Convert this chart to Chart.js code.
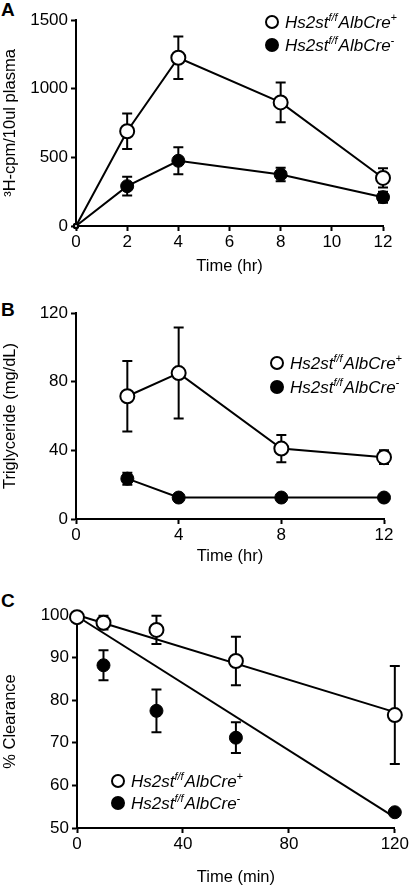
<!DOCTYPE html>
<html>
  <head>
    <meta charset="UTF-8">
    <title>Hs2st clearance</title>
    <script src="https://cdn.jsdelivr.net/npm/chart.js@4.4.1/dist/chart.umd.min.js"></script>
    <style type="text/css">
      body { margin: 0; background: #fff; width: 410px; height: 886px; position: relative; overflow: hidden; }
      .panel { position: absolute; left: 0; }
      .tag { position: absolute; left: 1px; font: bold 19px "Liberation Sans", Arial, sans-serif; line-height: 19px; color: #000; }
    </style>
  </head>
  <body>
    <div class="tag" style="top:0px">A</div>
    <div class="tag" style="top:300px">B</div>
    <div class="tag" style="top:591px">C</div>
    <div class="panel" style="top:0px"><canvas id="chartA" width="410" height="290"></canvas></div>
    <div class="panel" style="top:290px"><canvas id="chartB" width="410" height="290"></canvas></div>
    <div class="panel" style="top:570px"><canvas id="chartC" width="410" height="316"></canvas></div>
    <script>
    // panel A - 3H counts in plasma
    var timeA = [0, 2, 4, 8, 12];
    var plusA = [0, 690, 1225, 900, 350];
    var plusAErr = [0, 130, 155, 145, 70];
    var minusA = [0, 290, 475, 375, 210];
    var minusAErr = [0, 68, 98, 50, 40];

    // panel B - triglyceride
    var timeB = [2, 4, 8, 12];
    var plusB = [71.5, 85, 41, 36];
    var plusBErr = [20.5, 26.5, 8, 4];
    var minusB = [23.5, 12.5, 12.5, 12.5];
    var minusBErr = [3.5, 1, 1, 1];

    // panel C - % clearance
    var timeC = [0, 10, 30, 60, 120];
    var plusC = [99.5, 98.2, 96.5, 89.2, 76.5];
    var plusCErr = [0, 1.6, 3.3, 5.7, 11.5];
    var minusC = [99.5, 88.2, 77.5, 71.2, 53.7];
    var minusCErr = [0, 3.5, 5, 3.6, 0];
    var fitX = [0, 120];
    var plusFit = [100, 77.2];
    var minusFit = [99.7, 52.5];

    var FONT = '"Liberation Sans", Arial, sans-serif';

    function pts(xs, ys) {
      var out = [];
      for (var i = 0; i < xs.length; i++) out.push({x: xs[i], y: ys[i]});
      return out;
    }

    var errorBars = {
      id: 'errorBars',
      beforeDatasetsDraw: function(chart) {
        var ctx = chart.ctx;
        var ys = chart.scales.y;
        ctx.save();
        ctx.strokeStyle = '#000';
        ctx.lineWidth = 2;
        chart.data.datasets.forEach(function(ds, di) {
          if (!ds.err) return;
          var meta = chart.getDatasetMeta(di);
          meta.data.forEach(function(pt, i) {
            var e = ds.err[i];
            if (!e) return;
            var v = ds.data[i].y;
            var top = ys.getPixelForValue(v + e);
            var bot = ys.getPixelForValue(v - e);
            ctx.beginPath();
            ctx.moveTo(pt.x, top); ctx.lineTo(pt.x, bot);
            ctx.moveTo(pt.x - 5, top); ctx.lineTo(pt.x + 5, top);
            ctx.moveTo(pt.x - 5, bot); ctx.lineTo(pt.x + 5, bot);
            ctx.stroke();
          });
        });
        ctx.restore();
      }
    };

    var keyBox = {
      id: 'keyBox',
      afterDraw: function(chart, args, opts) {
        var ctx = chart.ctx;
        ctx.save();
        var row = 0;
        chart.data.datasets.forEach(function(ds) {
          if (!ds.keyText) return;
          var y = opts.y + row * opts.gap;
          ctx.beginPath();
          ctx.arc(opts.x, y, 6, 0, Math.PI * 2);
          ctx.fillStyle = ds.pointBackgroundColor;
          ctx.fill();
          ctx.lineWidth = 2;
          ctx.strokeStyle = '#000';
          ctx.stroke();
          ctx.fillStyle = '#000';
          ctx.textBaseline = 'alphabetic';
          var x = opts.x + 13;
          var base = y + 6;
          ds.keyText.forEach(function(part) {
            ctx.font = 'italic ' + (part.sup ? 11 : 17) + 'px ' + FONT;
            ctx.fillText(part.t, x, part.sup ? base - 7 : base);
            x += ctx.measureText(part.t).width + (part.sup ? 1 : 0);
          });
          row++;
        });
        ctx.restore();
      }
    };

    var plusText = [{t: 'Hs2st'}, {t: 'f/f', sup: true}, {t: 'AlbCre'}, {t: '+', sup: true}];
    var minusText = [{t: 'Hs2st'}, {t: 'f/f', sup: true}, {t: 'AlbCre'}, {t: '-', sup: true}];

    function openSet(data, err, extra) {
      var ds = {
        data: data, err: err, keyText: plusText, order: 0,
        borderColor: '#000', borderWidth: 2,
        pointBackgroundColor: '#fff', pointBorderColor: '#000', pointBorderWidth: 2,
        pointRadius: 7, showLine: true, clip: false
      };
      return Object.assign(ds, extra || {});
    }
    function filledSet(data, err, extra) {
      var ds = {
        data: data, err: err, keyText: minusText, order: 1,
        borderColor: '#000', borderWidth: 2,
        pointBackgroundColor: '#000', pointBorderColor: '#000', pointBorderWidth: 1,
        pointRadius: 6.5, showLine: true, clip: false
      };
      return Object.assign(ds, extra || {});
    }

    function axes(o) {
      var tickFont = {family: FONT, size: 17};
      var grid = {drawOnChartArea: false, drawTicks: true, tickLength: 5, tickWidth: 2, tickColor: '#000'};
      var border = {display: true, color: '#000', width: 2};
      var plain = function(v) { return String(v); };
      return {
        x: {
          type: 'linear', min: o.xmin, max: o.xmax,
          ticks: {stepSize: o.xstep, color: '#000', font: tickFont, padding: 1, maxRotation: 0, callback: plain},
          grid: grid, border: border,
          title: {display: true, text: o.xtitle, color: '#000', font: {family: FONT, size: 16.5, lineHeight: o.xtitleLH || 1.2}, padding: {top: 0, bottom: o.xtitlePad}},
          afterFit: function(s) { s.height = o.xh; }
        },
        y: {
          min: o.ymin, max: o.ymax,
          ticks: {stepSize: o.ystep, color: '#000', font: tickFont, padding: 3, callback: plain},
          grid: grid, border: border,
          title: {display: true, text: o.ytitle, color: '#000', font: {family: FONT, size: 16.5}, padding: {top: 1, bottom: 0}},
          afterFit: function(s) { s.width = o.yw; }
        }
      };
    }

    function makeChart(id, datasets, o, key) {
      return new Chart(document.getElementById(id), {
        type: 'scatter',
        data: {datasets: datasets},
        options: {
          responsive: false, animation: false,
          layout: {padding: {top: o.top, right: o.right, left: 0, bottom: 0}},
          scales: axes(o),
          plugins: {legend: {display: false}, tooltip: {enabled: false}, keyBox: key}
        },
        plugins: [errorBars, keyBox]
      });
    }

    makeChart('chartA', [
      openSet(pts(timeA, plusA), plusAErr, {pointRadius: [2, 7, 7, 7, 7]}),
      filledSet(pts(timeA, minusA), minusAErr, {pointRadius: [3, 6.5, 6.5, 6.5, 6.5]})
    ], {top: 20, right: 27, yw: 76, xh: 64, xmin: 0, xmax: 12, xstep: 2, ymin: 0, ymax: 1500, ystep: 500,
        xtitle: 'Time (hr)', ytitle: '\u00B3H-cpm/10ul plasma', xtitlePad: 14},
      {x: 272, y: 22, gap: 23});

    makeChart('chartB', [
      openSet(pts(timeB, plusB), plusBErr),
      filledSet(pts(timeB, minusB), minusBErr)
    ], {top: 23, right: 26, yw: 76, xh: 61, xmin: 0, xmax: 12, xstep: 4, ymin: 0, ymax: 120, ystep: 40,
        xtitle: 'Time (hr)', ytitle: 'Triglyceride (mg/dL)', xtitlePad: 14},
      {x: 277, y: 73, gap: 24});

    makeChart('chartC', [
      openSet(pts(timeC, plusC), plusCErr, {showLine: false}),
      filledSet(pts(timeC, minusC), minusCErr, {showLine: false}),
      {data: pts(fitX, plusFit), showLine: true, borderColor: '#000', borderWidth: 2, pointRadius: 0, clip: false, order: 2},
      {data: pts(fitX, minusFit), showLine: true, borderColor: '#000', borderWidth: 2, pointRadius: 0, clip: false, order: 2}
    ], {top: 45, right: 14, yw: 77, xh: 58, xmin: 0, xmax: 120, xstep: 40, ymin: 50, ymax: 100, ystep: 10,
        xtitle: 'Time (min)', ytitle: '% Clearance', xtitlePad: 0, xtitleLH: 1},
      {x: 118, y: 211, gap: 22});
    </script>
  </body>
</html>
